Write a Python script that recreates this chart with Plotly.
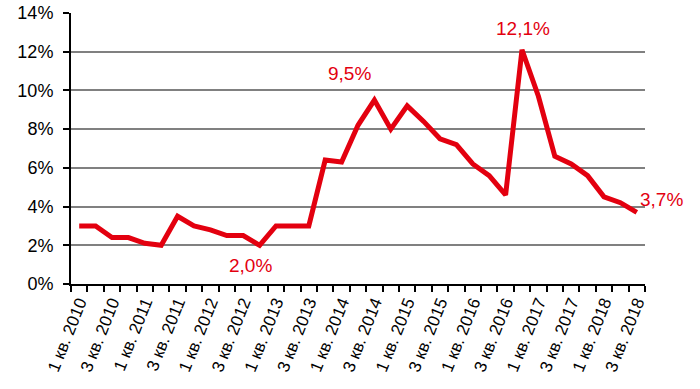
import plotly.graph_objects as go

years = [2010, 2011, 2012, 2013, 2014, 2015, 2016, 2017, 2018]
quarters = [1, 2, 3, 4]
categories = [f"{q} кв. {y}" for y in years for q in quarters][:35]

values = [3.0, 3.0, 2.4, 2.4,
          2.1, 2.0, 3.5, 3.0,
          2.8, 2.5, 2.5, 2.0,
          3.0, 3.0, 3.0, 6.4,
          6.3, 8.2, 9.5, 8.0,
          9.2, 8.4, 7.5, 7.2,
          6.2, 5.6, 4.6, 12.1,
          9.7, 6.6, 6.2, 5.6,
          4.5, 4.2, 3.7]

labeled = [11, 18, 27, 34]
label_shift = {11: (-9, -20), 18: (-25, 27), 27: (1, 21), 34: (25, 13)}

y_ticks = [0, 2, 4, 6, 8, 10, 12, 14]

RED = "#E3000F"
FONT = "Liberation Sans, Arial, sans-serif"

xs = list(range(len(categories)))
shown = xs[::2]

fig = go.Figure()
fig.add_trace(go.Scatter(x=xs, y=values, mode="lines",
                         line=dict(color=RED, width=5), hoverinfo="skip",
                         showlegend=False))

for i in labeled:
    dx, dy = label_shift[i]
    fig.add_annotation(x=xs[i], y=values[i],
                       text=f"{values[i]:.1f}%".replace(".", ","),
                       showarrow=False, xshift=dx, yshift=dy,
                       font=dict(family=FONT, size=19, color=RED))

fig.update_layout(
    width=700, height=389,
    margin=dict(l=71, r=55, t=13, b=105, autoexpand=False),
    paper_bgcolor="white", plot_bgcolor="white",
    font=dict(family=FONT, color="black"),
)
fig.update_xaxes(
    range=[-0.5, len(categories) - 0.5], automargin=False,
    tickmode="array", tickvals=shown, ticktext=[categories[i] for i in shown],
    tickangle=-68, tickfont=dict(size=17, family=FONT, color="black"),
    ticklabeloverflow="allow",
    ticks="", showgrid=False, zeroline=False,
    showline=True, linecolor="black", linewidth=2,
    minor=dict(tick0=-0.5, dtick=1, ticks="outside", ticklen=6,
               tickwidth=2, tickcolor="black", showgrid=False),
)
fig.update_yaxes(
    range=[0, 14], tickmode="array", tickvals=y_ticks, automargin=False,
    ticktext=[f"{v}%" for v in y_ticks],
    tickfont=dict(size=18, family=FONT, color="black"),
    ticklabeloverflow="allow",
    ticks="outside", ticklen=6, tickwidth=2, tickcolor="black",
    ticklabelstandoff=6,
    showgrid=True, gridcolor="#808080", gridwidth=2,
    zeroline=False, showline=True, linecolor="black", linewidth=2,
)

fig.write_html("out.html",
               config={"displayModeBar": False},
               post_script="document.body.style.margin='0';"
                           "document.body.style.overflow='hidden';")
